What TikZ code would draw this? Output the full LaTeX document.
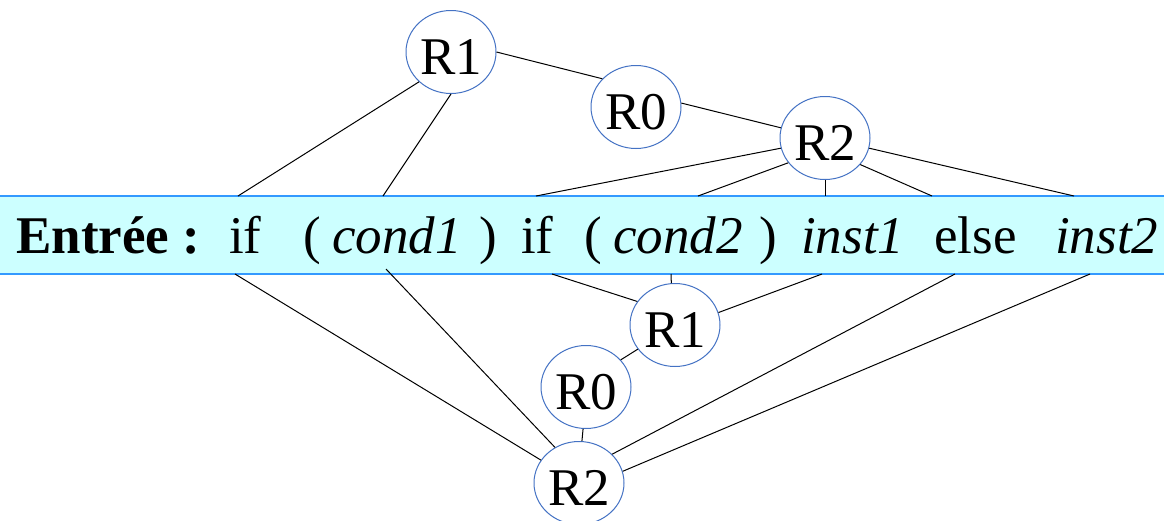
\documentclass[tikz,border=0pt]{standalone}
\usepackage{fontspec}
\setmainfont{Liberation Serif}
\usetikzlibrary{shapes.geometric}
\definecolor{bandfill}{RGB}{204,255,255}
\definecolor{bandedge}{RGB}{51,153,255}
\definecolor{regedge}{RGB}{68,114,196}
\newcommand{\bandsize}{\fontsize{53}{60}\selectfont}
\tikzset{
  reg/.style={ellipse,draw=regedge,line width=1pt,fill=white,
    minimum width=90pt,minimum height=83pt,inner sep=0pt,
    text height=45pt,text depth=0pt,font=\bandsize},
  tok/.style={anchor=base west,inner sep=0pt,font=\bandsize},
  arc/.style={line width=1pt,black}
}
\begin{document}
\begin{tikzpicture}[x=1pt,y=-1pt]
  \useasboundingbox (0,0) rectangle (1164,520);
  % the input, as a band across the page
  \fill[bandfill] (0,196) rectangle (1164,274);
  \draw[bandedge,line width=1.5pt] (0,196) -- (1164,196);
  \draw[bandedge,line width=1.5pt] (0,274) -- (1164,274);
  \node[tok,font=\bandsize\bfseries] (entree) at (16,253) {Entrée :};
  \node[tok] (if1) at (229,253) {if};
  \node[tok] (lp1) at (303,253) {(};
  \node[tok] (cond1) at (332,253) {\itshape cond1};
  \node[tok] (rp1) at (479,253) {)};
  \node[tok] (if2) at (521,253) {if};
  \node[tok] (lp2) at (584,253) {(};
  \node[tok] (cond2) at (613,253) {\itshape cond2};
  \node[tok] (rp2) at (759,253) {)};
  \node[tok] (inst1) at (801,253) {\itshape inst1};
  \node[tok] (kwelse) at (934,253) {else};
  \node[tok] (inst2) at (1055,253) {\itshape inst2};
  % registers above and below the band
  \node[reg] (R1t) at (451,52) {R1};
  \node[reg] (R0t) at (636,107) {R0};
  \node[reg] (R2t) at (825,138) {R2};
  \node[reg] (R1b) at (675,325) {R1};
  \node[reg] (R0b) at (586,387) {R0};
  \node[reg] (R2b) at (579,483) {R2};
  \coordinate (u1) at (238,196);
  \coordinate (u2) at (383,196);
  \coordinate (u3) at (536,196);
  \coordinate (u4) at (698,196);
  \coordinate (u5) at (825,196);
  \coordinate (u6) at (932,196);
  \coordinate (u7) at (1074,196);
  \coordinate (d1) at (235,274);
  \coordinate (d2) at (386,269);
  \coordinate (d3) at (552,274);
  \coordinate (d4) at (671,274);
  \coordinate (d5) at (822,274);
  \coordinate (d6) at (955,274);
  \coordinate (d7) at (1090,274);
  \draw[arc] (R1t.223) -- (u1);
  \draw[arc] (R1t.south) -- (u2);
  \draw[arc] (R1t.east) -- (R0t.140);
  \draw[arc] (R0t.5) -- (R2t.167);
  \draw[arc] (R2t.193) -- (u3);
  \draw[arc] (R2t.214) -- (u4);
  \draw[arc] (R2t.south) -- (u5);
  \draw[arc] (R2t.323) -- (u6);
  \draw[arc] (R2t.347) -- (u7);
  \draw[arc] (d1) -- (R2b.149);
  \draw[arc] (d2) -- (R2b.124);
  \draw[arc] (d3) -- (R1b.148);
  \draw[arc] (d4) -- (R1b.95);
  \draw[arc] (d5) -- (R1b.16);
  \draw[arc] (R1b.213) -- (R0b.38);
  \draw[arc] (R0b.266) -- (R2b.86);
  \draw[arc] (d6) -- (R2b.41);
  \draw[arc] (d7) -- (R2b.15);
\end{tikzpicture}
\end{document}
